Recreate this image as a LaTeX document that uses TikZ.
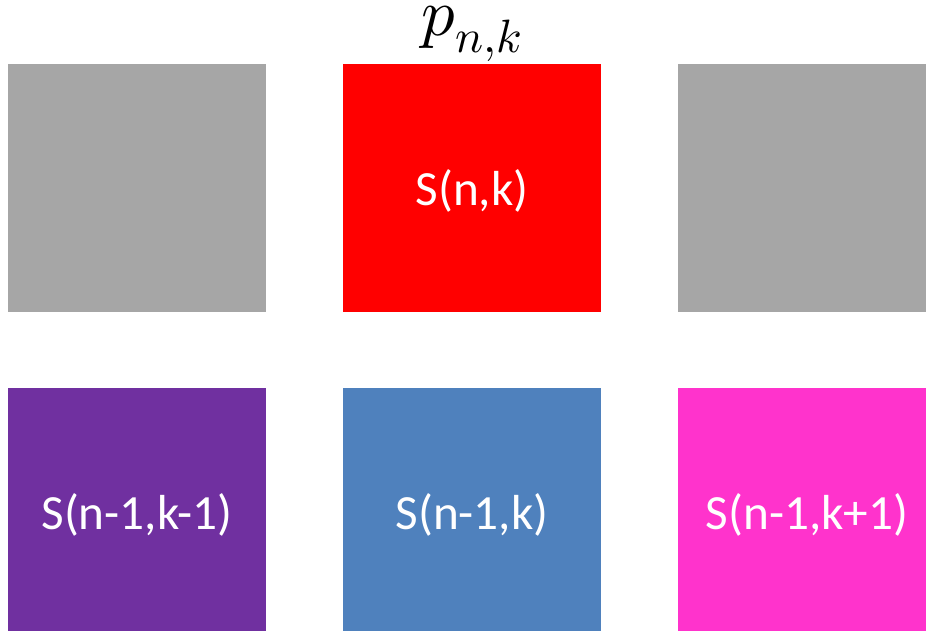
\documentclass[tikz,border=0pt]{standalone}
\usepackage{amsmath}
\usepackage{unicode-math}
\setmainfont{Carlito}
\setmathfont{Latin Modern Math}
\usepackage{tikz}
\usetikzlibrary{positioning}
\definecolor{cGray}{HTML}{A6A6A6}
\definecolor{cRed}{HTML}{FF0000}
\definecolor{cPurple}{HTML}{7030A0}
\definecolor{cBlue}{HTML}{4F81BD}
\definecolor{cPink}{HTML}{FF33CC}
\tikzset{cell/.style={minimum width=5.16cm, minimum height=4.96cm, inner sep=0pt, text depth=0pt, text=white, font=\fontsize{28}{32}\selectfont}}

\begin{document}
\begin{tikzpicture}
    \useasboundingbox (0,0) rectangle (18.52,12.6);
    \clip (0,0) rectangle (18.52,12.6);
    % previous row
    \foreach \name/\lbl/\i/\fc in {prevL/{}/0/cGray, prevM/{S(n,k)}/1/cRed, prevR/{}/2/cGray}
      \node[cell, fill=\fc] (\name) at (2.74+\i*6.70,8.84) {\lbl};
    % current row
    \foreach \name/\lbl/\i/\fc in {curL/{S(n-1,k-1)}/0/cPurple, curM/{S(n-1,k)}/1/cBlue, curR/{S(n-1,k+1)}/2/cPink}
      \node[cell, fill=\fc] (\name) at (2.74+\i*6.70,2.36) {\lbl};
    \node[above=0.04cm of prevM, inner sep=0pt, font=\fontsize{38}{42}\selectfont] (prob) {$p_{n,k}$};
  \end{tikzpicture}
\end{document}
